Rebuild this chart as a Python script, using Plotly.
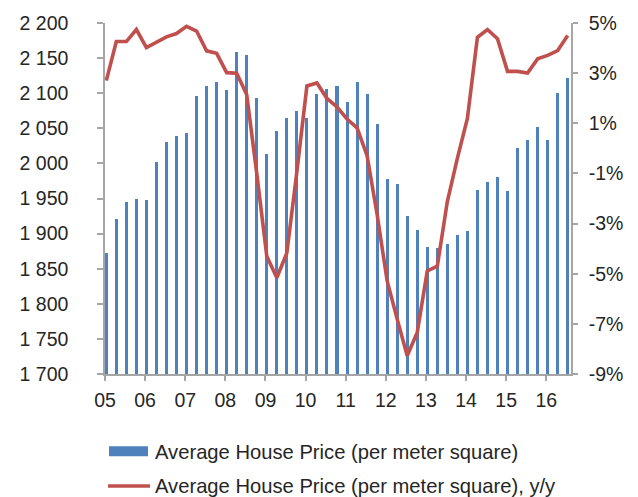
import plotly.graph_objects as go

# Quarterly data 2005Q1 .. 2016Q3
quarters = [f"{y}Q{q}" for y in range(2005, 2017) for q in range(1, 5)][:47]
price = [1873, 1921, 1945, 1950, 1948, 2002, 2031, 2039, 2043, 2096, 2110, 2116,
         2104, 2158, 2155, 2093, 2014, 2046, 2065, 2075, 2064, 2099, 2106, 2110,
         2088, 2116, 2099, 2056, 1978, 1971, 1925, 1905, 1881, 1879, 1885, 1898,
         1903, 1962, 1974, 1981, 1961, 2022, 2033, 2052, 2033, 2101, 2121]
yoy = [2.7, 4.26, 4.26, 4.74, 4.02, 4.23, 4.45, 4.58, 4.87, 4.68, 3.89, 3.79,
       3.02, 3.0, 2.14, -1.0, -4.3, -5.16, -4.17, -0.93, 2.49, 2.61, 1.99, 1.65,
       1.17, 0.82, -0.29, -2.64, -5.29, -6.81, -8.27, -7.34, -4.89, -4.7, -2.12, -0.4,
       1.19, 4.43, 4.74, 4.37, 3.07, 3.07, 3.0, 3.57, 3.71, 3.9, 4.5]
year_labels = ["05", "06", "07", "08", "09", "10", "11", "12", "13", "14", "15", "16"]
pct_vals = [-9, -7, -5, -3, -1, 1, 3, 5]
pct_labels = [f"{v}%" for v in pct_vals]

name_bar = "Average House Price (per meter square)"
name_line = "Average House Price (per meter square), y/y"

BLUE = "#4F81BD"
RED = "#C0504D"
TXT = "#262626"
AX = "#A6A6A6"
FONT = "Liberation Sans, Arial, sans-serif"
FS = 19.5
FS_LEG = 20.2

x = list(range(len(quarters)))
tickvals = [4 * k - 0.13 for k in range(len(year_labels))]

fig = go.Figure()
fig.add_trace(go.Bar(x=x, y=price, name=name_bar, marker=dict(color=BLUE, line=dict(width=0)),
                     width=0.3, showlegend=False))
fig.add_trace(go.Scatter(x=x, y=yoy, name=name_line, mode="lines", yaxis="y2",
                         line=dict(color=RED, width=3.6), showlegend=False))

W, H = 638, 497
ml, mr, mt, mb = 105, 67, 21, 123
pw, ph = W - ml - mr, H - mt - mb

def px2paper(px, py):
    return (px - ml) / pw, (H - mb - py) / ph

shapes = []
annotations = []
x0, y0 = px2paper(109, 446.7)
x1, y1 = px2paper(148, 456.7)
shapes.append(dict(type="rect", xref="paper", yref="paper", x0=x0, x1=x1, y0=y1, y1=y0,
                   fillcolor=BLUE, line=dict(width=0)))
lx0, ly = px2paper(108, 486.7)
lx1, _ = px2paper(150, 486.7)
shapes.append(dict(type="line", xref="paper", yref="paper", x0=lx0, x1=lx1, y0=ly, y1=ly,
                   line=dict(color=RED, width=3.6)))
tx, ty1 = px2paper(152.5, 452)
_, ty2 = px2paper(152.5, 487)
annotations.append(dict(xref="paper", yref="paper", x=tx, y=ty1, xanchor="left", yanchor="middle",
                        text=name_bar, showarrow=False, font=dict(size=FS_LEG, color=TXT, family=FONT)))
annotations.append(dict(xref="paper", yref="paper", x=tx, y=ty2, xanchor="left", yanchor="middle",
                        text=name_line, showarrow=False, font=dict(size=FS_LEG, color=TXT, family=FONT)))

fig.update_layout(
    width=W, height=H,
    margin=dict(l=ml, r=mr, t=mt, b=mb, pad=0),
    paper_bgcolor="white", plot_bgcolor="white",
    separators=". ",
    font=dict(family=FONT, size=FS, color=TXT),
    bargap=0,
    xaxis=dict(range=[-0.13, 46.33], tickvals=tickvals, ticktext=year_labels,
               showgrid=False, zeroline=False, showline=True, linecolor=AX, linewidth=1.5,
               ticks="outside", ticklen=5, tickcolor=AX, tickwidth=1.5,
               ticklabelstandoff=3, tickfont=dict(size=FS, color=TXT)),
    yaxis=dict(range=[1700, 2200], dtick=50, tick0=1700, tickformat=",d",
               showgrid=False, zeroline=False, showline=True, linecolor=AX, linewidth=1.5,
               ticks="outside", ticklen=6, tickcolor=AX, tickwidth=1.5,
               ticklabelstandoff=25, tickfont=dict(size=FS, color=TXT)),
    yaxis2=dict(range=[-9, 5], tickvals=pct_vals, ticktext=pct_labels, overlaying="y", side="right",
                showgrid=False, zeroline=False, showline=True, linecolor=AX, linewidth=1.5,
                ticks="outside", ticklen=5, tickcolor=AX, tickwidth=1.5,
                ticklabelstandoff=7, tickfont=dict(size=FS, color=TXT)),
    shapes=shapes,
    annotations=annotations,
)

fig.write_html("out.html", config={"displayModeBar": False},
               post_script="document.body.style.margin='0';document.body.style.padding='0';")
